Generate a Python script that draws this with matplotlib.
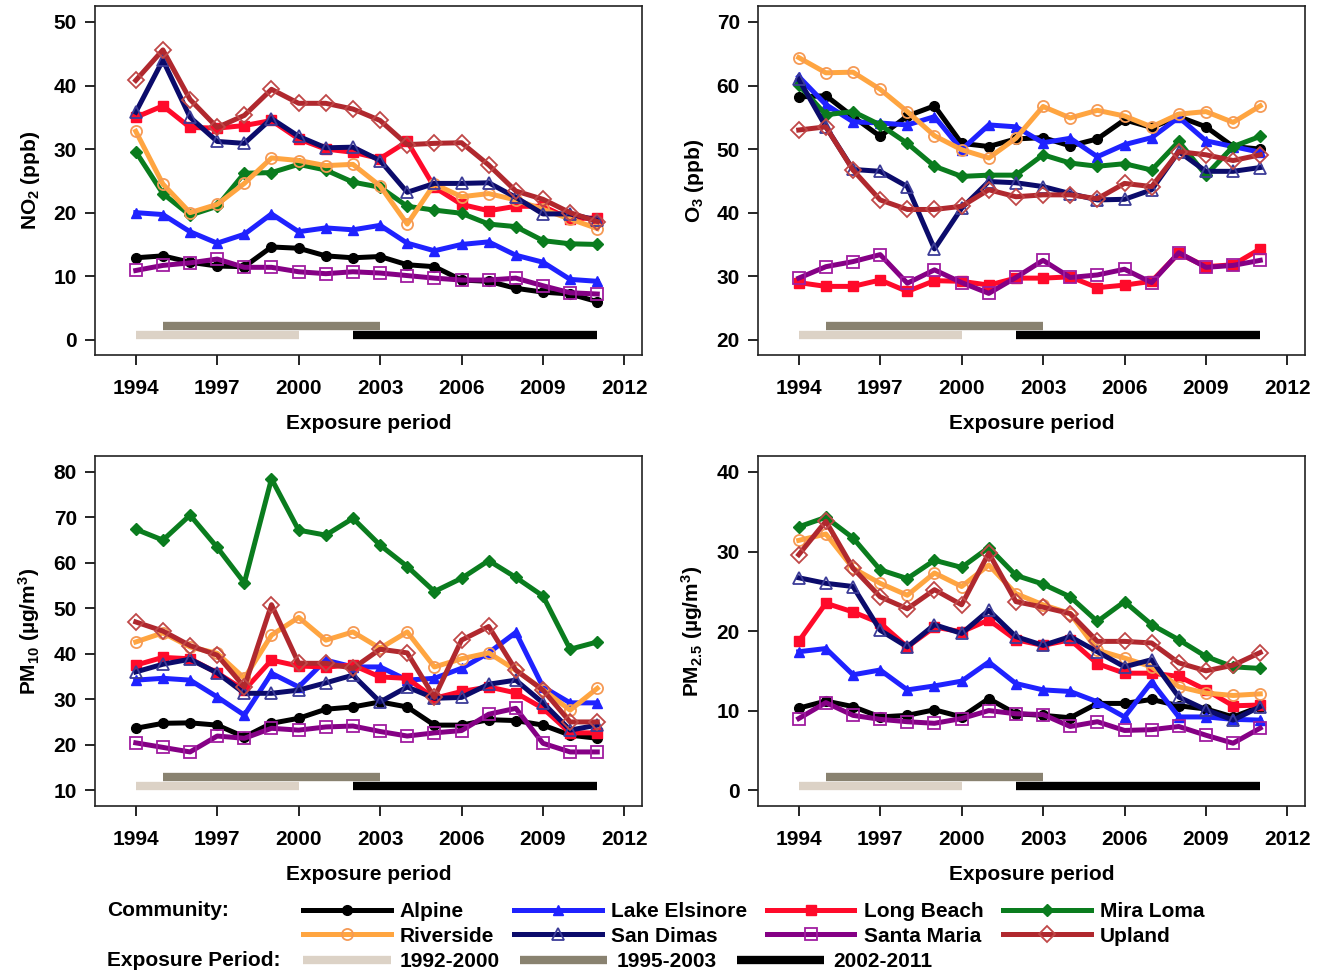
import matplotlib
matplotlib.use("Agg")
import matplotlib.pyplot as plt
from matplotlib.lines import Line2D

plt.rcParams["font.family"] = ["Liberation Sans", "DejaVu Sans"]
plt.rcParams["font.weight"] = "bold"
plt.rcParams["mathtext.fontset"] = "custom"
plt.rcParams["mathtext.rm"] = "Liberation Sans:bold"
plt.rcParams["mathtext.bf"] = "Liberation Sans:bold"
plt.rcParams["mathtext.it"] = "Liberation Sans:bold"
plt.rcParams["mathtext.default"] = "bf"

years = [1994, 1995, 1996, 1997, 1998, 1999, 2000, 2001, 2002,
         2003, 2004, 2005, 2006, 2007, 2008, 2009, 2010, 2011]

communities = ["Alpine", "Lake Elsinore", "Long Beach", "Mira Loma",
               "Riverside", "San Dimas", "Santa Maria", "Upland"]

# annual means per community, 1994-2011
no2 = {
    "Alpine":        [12.9, 13.2, 12.2, 11.6, 11.5, 14.6, 14.4, 13.2, 12.9, 13.1, 11.8, 11.5, 9.4, 9.2, 8.1, 7.5, 7.2, 6.0],
    "Lake Elsinore": [20.0, 19.7, 17.0, 15.2, 16.6, 19.8, 17.0, 17.6, 17.3, 18.0, 15.2, 14.0, 15.0, 15.4, 13.3, 12.2, 9.5, 9.2],
    "Long Beach":    [35.0, 36.8, 33.4, 33.3, 33.7, 34.5, 31.6, 30.0, 29.5, 28.5, 31.2, 24.0, 21.3, 20.3, 21.0, 21.0, 19.0, 19.2],
    "Mira Loma":     [29.6, 23.0, 19.6, 21.0, 26.2, 26.3, 27.6, 26.7, 24.8, 24.0, 21.0, 20.4, 19.9, 18.2, 17.8, 15.6, 15.1, 15.0],
    "Riverside":     [32.8, 24.5, 20.0, 21.3, 24.6, 28.6, 28.2, 27.4, 27.6, 24.2, 18.2, 24.5, 22.5, 23.0, 22.0, 20.5, 19.0, 17.5],
    "San Dimas":     [35.8, 44.0, 35.0, 31.2, 30.9, 34.8, 32.0, 30.2, 30.3, 28.2, 23.2, 24.6, 24.6, 24.7, 22.4, 19.8, 19.8, 18.8],
    "Santa Maria":   [10.9, 11.7, 12.1, 12.7, 11.4, 11.4, 10.7, 10.4, 10.7, 10.5, 10.1, 9.7, 9.4, 9.4, 9.7, 8.5, 7.4, 7.2],
    "Upland":        [40.8, 45.6, 37.8, 33.4, 35.3, 39.4, 37.2, 37.2, 36.3, 34.5, 30.7, 30.9, 31.0, 27.5, 23.4, 22.1, 20.0, 18.6],
}

o3 = {
    "Alpine":        [58.2, 58.4, 55.1, 52.0, 55.2, 56.8, 50.9, 50.4, 51.6, 51.8, 50.5, 51.6, 54.6, 53.4, 55.1, 53.5, 50.4, 50.0],
    "Lake Elsinore": [61.4, 57.0, 54.3, 54.1, 53.8, 55.1, 49.9, 53.8, 53.5, 51.0, 51.7, 48.8, 50.7, 51.8, 55.0, 51.3, 50.4, 49.5],
    "Long Beach":    [29.0, 28.4, 28.4, 29.4, 27.6, 29.3, 29.2, 28.6, 29.7, 29.7, 29.9, 28.2, 28.6, 29.2, 33.6, 31.5, 31.8, 34.3],
    "Mira Loma":     [60.1, 55.4, 55.9, 53.8, 50.9, 47.3, 45.7, 45.9, 45.9, 49.1, 47.8, 47.3, 47.7, 46.7, 51.2, 45.9, 50.4, 52.0],
    "Riverside":     [64.4, 62.0, 62.1, 59.4, 55.9, 52.1, 49.9, 48.6, 51.7, 56.7, 54.9, 56.1, 55.2, 53.5, 55.5, 55.9, 54.2, 56.8],
    "San Dimas":     [61.0, 53.5, 46.8, 46.5, 44.1, 34.3, 40.7, 44.9, 44.7, 44.1, 43.0, 42.0, 42.1, 43.6, 49.6, 46.5, 46.5, 47.1],
    "Santa Maria":   [29.7, 31.5, 32.3, 33.4, 28.9, 31.0, 29.0, 27.3, 29.8, 32.5, 29.8, 30.2, 31.1, 29.0, 33.7, 31.4, 31.7, 32.5],
    "Upland":        [53.0, 53.5, 46.7, 42.0, 40.5, 40.5, 41.0, 43.6, 42.5, 42.8, 42.8, 42.2, 44.6, 44.1, 49.6, 49.1, 48.2, 49.1],
}

pm10 = {
    "Alpine":        [23.6, 24.7, 24.8, 24.3, 21.7, 24.7, 25.8, 27.8, 28.3, 29.4, 28.3, 24.3, 24.3, 25.5, 25.3, 24.3, 22.1, 21.4],
    "Lake Elsinore": [34.2, 34.6, 34.2, 30.5, 26.5, 35.7, 32.7, 38.6, 37.1, 37.1, 34.2, 34.6, 36.8, 40.2, 44.7, 32.7, 29.2, 29.2],
    "Long Beach":    [37.5, 39.2, 38.9, 35.8, 32.0, 38.6, 37.3, 37.1, 37.5, 34.9, 34.6, 30.2, 31.7, 32.7, 31.4, 28.0, 22.6, 22.6],
    "Mira Loma":     [67.4, 65.0, 70.5, 63.4, 55.6, 78.5, 67.2, 66.1, 69.8, 63.9, 59.2, 53.7, 56.6, 60.5, 56.8, 52.7, 41.0, 42.6],
    "Riverside":     [42.6, 44.6, 41.5, 40.1, 34.6, 44.1, 48.0, 43.0, 44.8, 41.2, 44.8, 37.1, 38.9, 40.2, 36.4, 32.1, 27.6, 32.4],
    "San Dimas":     [36.0, 37.7, 38.8, 35.8, 31.3, 31.3, 32.0, 33.6, 35.3, 29.4, 32.7, 30.2, 30.4, 33.3, 34.2, 29.2, 23.2, 24.3],
    "Santa Maria":   [20.4, 19.4, 18.4, 21.9, 21.4, 23.6, 23.2, 23.9, 24.1, 22.9, 21.9, 22.6, 23.1, 26.7, 28.0, 20.3, 18.4, 18.4],
    "Upland":        [47.0, 45.0, 41.8, 39.7, 32.7, 50.8, 37.9, 37.9, 36.8, 41.0, 40.2, 30.4, 43.0, 46.0, 36.4, 32.0, 25.0, 25.0],
}

pm25 = {
    "Alpine":        [10.3, 11.2, 10.5, 9.2, 9.4, 10.1, 9.2, 11.5, 9.6, 9.4, 9.1, 10.9, 10.9, 11.4, 10.6, 10.2, 9.2, 10.5],
    "Lake Elsinore": [17.4, 17.8, 14.5, 15.1, 12.6, 13.1, 13.7, 16.1, 13.4, 12.6, 12.4, 11.1, 9.2, 13.6, 9.2, 9.2, 8.9, 8.8],
    "Long Beach":    [18.7, 23.5, 22.4, 21.0, 18.0, 20.5, 19.9, 21.4, 18.9, 18.2, 18.9, 15.9, 14.7, 14.7, 14.3, 12.6, 10.6, 10.7],
    "Mira Loma":     [33.1, 34.3, 31.7, 27.7, 26.6, 28.9, 28.0, 30.5, 27.0, 25.9, 24.3, 21.2, 23.7, 20.8, 18.9, 16.8, 15.5, 15.3],
    "Riverside":     [31.4, 32.2, 27.9, 26.0, 24.5, 27.3, 25.6, 28.3, 24.7, 23.3, 22.2, 17.6, 16.6, 15.5, 13.0, 12.2, 11.9, 12.1],
    "San Dimas":     [26.7, 26.0, 25.6, 20.1, 18.0, 20.8, 19.7, 22.6, 19.3, 18.2, 19.3, 17.4, 15.5, 16.4, 11.7, 10.1, 8.8, 10.5],
    "Santa Maria":   [9.0, 11.0, 9.4, 8.9, 8.6, 8.4, 9.0, 10.0, 9.6, 9.5, 8.0, 8.6, 7.5, 7.6, 8.0, 6.9, 5.9, 7.8],
    "Upland":        [29.6, 33.8, 27.9, 24.3, 22.8, 25.2, 23.3, 29.8, 23.7, 23.0, 22.2, 18.7, 18.7, 18.5, 16.0, 15.0, 15.7, 17.3],
}

# exposure periods and the span of years each covers on the chart
period_labels = ["1992-2000", "1995-2003", "2002-2011"]
period_start = [1994, 1995, 2002]
period_end = [2000, 2003, 2011]

colors = {
    "Alpine": "#000000", "Lake Elsinore": "#1f22ff", "Long Beach": "#ff0a2a",
    "Mira Loma": "#0a7c1e", "Riverside": "#ffa540", "San Dimas": "#0b0b6b",
    "Santa Maria": "#850085", "Upland": "#b0282e",
}
edge_colors = {"Riverside": "#f59a55", "San Dimas": "#3c3c98",
               "Santa Maria": "#a01ca0", "Upland": "#c04848"}
markers = {
    "Alpine": "o", "Lake Elsinore": "^", "Long Beach": "s", "Mira Loma": "D",
    "Riverside": "o", "San Dimas": "^", "Santa Maria": "s", "Upland": "D",
}
open_markers = ["Riverside", "San Dimas", "Santa Maria", "Upland"]
period_colors = ["#dcd2c6", "#898270", "#000000"]
period_heights = [0.056, 0.083, 0.056]

panels = [
    (no2, "NO$_2$ (ppb)", (-2.4, 52.5), [0, 10, 20, 30, 40, 50]),
    (o3, "O$_3$ (ppb)", (17.6, 72.5), [20, 30, 40, 50, 60, 70]),
    (pm10, "PM$_{10}$ (\u00b5g/m$^3$)", (6.5, 83.5), [10, 20, 30, 40, 50, 60, 70, 80]),
    (pm25, "PM$_{2.5}$ (\u00b5g/m$^3$)", (-2.0, 42.0), [0, 10, 20, 30, 40]),
]
positions = [
    [0.0714, 0.6366, 0.4110, 0.3572],
    [0.5695, 0.6366, 0.4110, 0.3572],
    [0.0714, 0.1750, 0.4110, 0.3582],
    [0.5695, 0.1750, 0.4110, 0.3582],
]
FS = 15


def line_style(name):
    style = dict(color=colors[name], marker=markers[name], lw=3.6,
                 markersize=7 if markers[name] != "D" else 6.5)
    if name in open_markers:
        style.update(markerfacecolor="none", markeredgecolor=edge_colors[name],
                     markeredgewidth=1.3, markersize=8)
    return style


fig = plt.figure(figsize=(13.31, 9.77), dpi=100)

for (data, ylabel, ylim, yticks), pos in zip(panels, positions):
    ax = fig.add_axes(pos)
    for name in communities:
        ax.plot(years, data[name], **line_style(name))

    # exposure period bars sit just above the bottom of each panel
    for i in range(len(period_labels)):
        ax.plot([period_start[i], period_end[i]], [period_heights[i]] * 2,
                color=period_colors[i], lw=6, solid_capstyle="butt",
                transform=ax.get_xaxis_transform(), zorder=1)

    ax.set_xlim(1992.5, 2012.65)
    ax.set_ylim(*ylim)
    ax.set_xticks([1994, 1997, 2000, 2003, 2006, 2009, 2012])
    ax.set_yticks(yticks)
    ax.tick_params(direction="out", length=7, width=1.2, labelsize=FS)
    ax.tick_params(axis="x", pad=10)
    ax.tick_params(axis="y", pad=6)
    for sp in ax.spines.values():
        sp.set_linewidth(1.2)
        sp.set_color("#222222")
    ax.set_xlabel("Exposure period", fontsize=FS, fontweight="bold", labelpad=12)
    ax.set_ylabel(ylabel, fontsize=FS, fontweight="bold", labelpad=8)

# legend rows under the panels
handles = {name: Line2D([], [], **line_style(name)) for name in communities}
order = ["Alpine", "Riverside", "Lake Elsinore", "San Dimas",
         "Long Beach", "Santa Maria", "Mira Loma", "Upland"]
fig.legend([handles[n] for n in order], order, ncol=4, frameon=False,
           loc="upper left", bbox_to_anchor=(303 / 1331, 1 - 902 / 977),
           borderpad=0, borderaxespad=0, handlelength=4.2, handletextpad=0.45,
           columnspacing=0.95, labelspacing=0.27, prop=dict(size=FS, weight="bold"))

period_handles = [Line2D([], [], color=c, lw=6, solid_capstyle="butt") for c in period_colors]
fig.legend(period_handles, period_labels, ncol=3, frameon=False,
           loc="upper left", bbox_to_anchor=(303 / 1331, 1 - 952 / 977),
           borderpad=0, borderaxespad=0, handlelength=4.2, handletextpad=0.45,
           columnspacing=0.95, prop=dict(size=FS, weight="bold"))

fig.text(107 / 1331, 1 - 910 / 977, "Community:", fontsize=FS, fontweight="bold", va="center")
fig.text(107 / 1331, 1 - 960 / 977, "Exposure Period:", fontsize=FS, fontweight="bold", va="center")

fig.savefig("out.png", dpi=100)
